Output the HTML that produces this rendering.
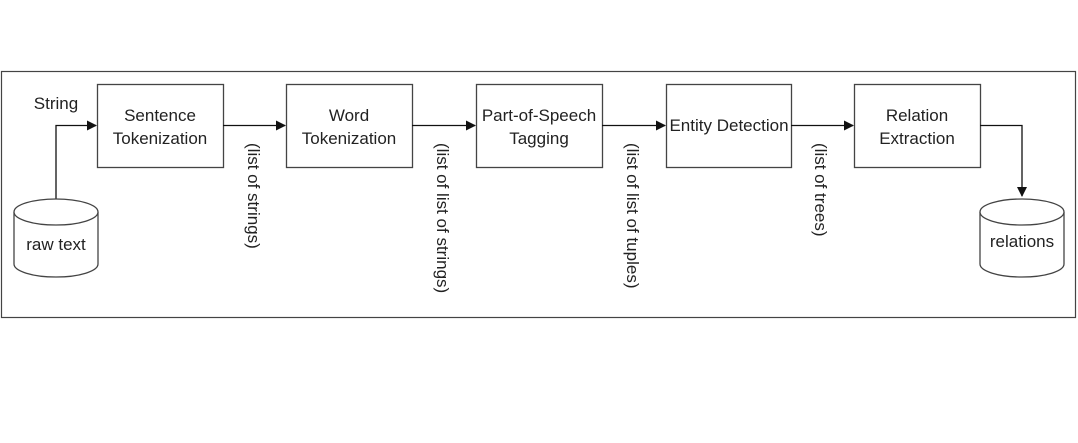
<!DOCTYPE html>
<html><head><style>body{margin:0;background:#fff}</style></head><body>
<svg width="1078" height="438" xmlns="http://www.w3.org/2000/svg" font-family="Liberation Sans, sans-serif" font-size="17" fill="#222">
<defs><marker id="a" markerWidth="10" markerHeight="10" refX="9" refY="5" orient="auto" markerUnits="userSpaceOnUse"><path d="M0,0 L10,5 L0,10 z" fill="#111"/></marker></defs>
<rect x="1.5" y="71.5" width="1074" height="246" fill="none" stroke="#444" stroke-width="1.2"/>
<g fill="none" stroke="#444" stroke-width="1.3">
<rect x="97.5" y="84.5" width="126" height="83"/>
<rect x="286.5" y="84.5" width="126" height="83"/>
<rect x="476.5" y="84.5" width="126" height="83"/>
<rect x="666.5" y="84.5" width="125" height="83"/>
<rect x="854.5" y="84.5" width="126" height="83"/>
</g>
<g fill="none" stroke="#111" stroke-width="1.3">
<path d="M56,199 V125.5 H96" marker-end="url(#a)"/>
<path d="M223,125.5 H285" marker-end="url(#a)"/>
<path d="M412,125.5 H475" marker-end="url(#a)"/>
<path d="M602,125.5 H665" marker-end="url(#a)"/>
<path d="M791,125.5 H853" marker-end="url(#a)"/>
<path d="M980,125.5 H1022 V196" marker-end="url(#a)"/>
</g>
<g fill="#fff" stroke="#444" stroke-width="1.3">
<path d="M14,212 V264 A42,13 0 0 0 98,264 V212"/>
<ellipse cx="56" cy="212" rx="42" ry="13"/>
<path d="M980,212 V264 A42,13 0 0 0 1064,264 V212"/>
<ellipse cx="1022" cy="212" rx="42" ry="13"/>
</g>
<g text-anchor="middle">
<text x="56" y="109" >String</text>
<text x="160" y="121">Sentence</text><text x="160" y="144">Tokenization</text>
<text x="349" y="121">Word</text><text x="349" y="144">Tokenization</text>
<text x="539" y="121">Part-of-Speech</text><text x="539" y="144">Tagging</text>
<text x="729" y="131">Entity Detection</text>
<text x="917" y="121">Relation</text><text x="917" y="144">Extraction</text>
<text x="56" y="250">raw text</text>
<text x="1022" y="247">relations</text>
</g>
<g>
<text transform="translate(248,143) rotate(90)">(list of strings)</text>
<text transform="translate(437,143) rotate(90)">(list of list of strings)</text>
<text transform="translate(627,143) rotate(90)">(list of list of tuples)</text>
<text transform="translate(815,143) rotate(90)">(list of trees)</text>
</g>
</svg>
</body></html>
